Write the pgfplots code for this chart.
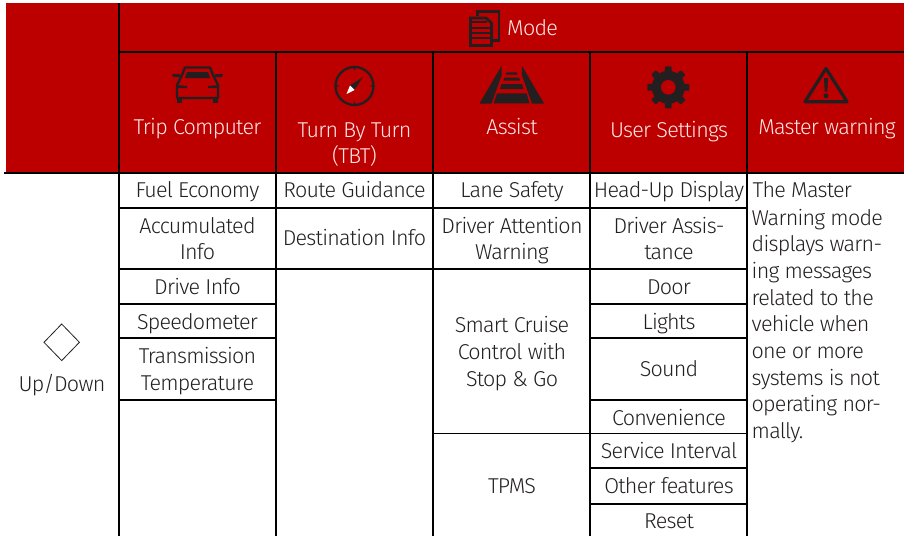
\documentclass[border=0pt]{standalone}
\usepackage{pgfplots}
\pgfplotsset{compat=1.18}
\usepackage{fontspec}
\setmainfont[LetterSpace=-3.5]{Fira Sans Light}
\definecolor{kred}{HTML}{BC0000}
\definecolor{ink}{HTML}{231F20}
\definecolor{pale}{HTML}{FFE6E6}
\newcommand{\tx}[3]{\node[anchor=base,inner sep=0pt,text=ink] at (axis cs:#1,#2) {#3};}
\newcommand{\wt}[3]{\node[anchor=base,inner sep=0pt,text=pale] at (axis cs:#1,#2) {#3};}
\newcommand{\lt}[3]{\node[anchor=base west,inner sep=0pt,text=ink] at (axis cs:#1,#2) {#3};}
\newcommand{\hl}[3]{\addplot[black,line width=1.6pt,line cap=butt] coordinates {(#1,#3) (#2,#3)};}
\newcommand{\vl}[3]{\addplot[black,line width=1.6pt,line cap=butt] coordinates {(#3,#1) (#3,#2)};}
\newcommand{\poly}[1]{\addplot[fill=ink,draw=none] coordinates {#1} -- cycle;}
\begin{document}
\begin{tikzpicture}[every node/.style={font=\fontsize{21.5}{24}\selectfont}]
\begin{axis}[
  width=904pt,height=536pt,scale only axis,
  xmin=0,xmax=904,ymin=0,ymax=536,y dir=reverse,
  hide axis,clip=true,
]
% red header
\addplot[fill=kred,draw=none] coordinates {(6,3) (904,3) (904,172.5) (6,172.5)} -- cycle;
% grid lines
\hl{4}{904}{173}
\hl{119}{904}{52}
\vl{3}{536}{119}
\vl{52}{536}{276}
\vl{52}{536}{433}
\vl{52}{536}{590}
\vl{52}{536}{747}
\hl{119}{276}{208}\hl{119}{276}{269}\hl{119}{276}{304}\hl{119}{276}{338}\hl{119}{276}{400}
\hl{276}{433}{208}\hl{276}{433}{269}
\hl{433}{590}{208}\hl{433}{590}{269}\hl{433}{590}{433.5}
\hl{590}{747}{208}\hl{590}{747}{269}\hl{590}{747}{304}\hl{590}{747}{338}\hl{590}{747}{400}\hl{590}{747}{433.5}\hl{590}{747}{468}\hl{590}{747}{504}
% diamond
\addplot[ink,line width=0.8pt] coordinates {(61.7,324) (79.4,342.3) (61.7,360.6) (44,342.3)} -- cycle;
% pages icon
\addplot[ink,line width=2.8pt,line join=miter] coordinates {(477.5,16) (477.5,11.2) (499,11.2) (499,40.5) (492.5,40.5)};
\addplot[ink,line width=2.8pt,line join=miter] coordinates {(470.5,18) (486,18) (491.5,23) (491.5,45.5) (470.5,45.5)} -- cycle;
\addplot[ink,line width=1.8pt] coordinates {(472,22.3) (487,22.3)};
\addplot[ink,line width=1.8pt] coordinates {(472,27.7) (490,27.7)};
\addplot[ink,line width=1.8pt] coordinates {(472,33.3) (490,33.3)};
\addplot[ink,line width=1.8pt] coordinates {(472,38.3) (490,38.3)};
% car icon
\addplot[ink,line width=2.4pt,line join=round] coordinates {(177,98) (177,85) (182,75) (185,67.5) (210,67.5) (213,75) (218,85) (218,98)} -- cycle;
\poly{(172,74) (180,74) (180,77) (173,77)}
\poly{(215,74) (223,74) (222,77) (215,77)}
\poly{(187,72) (208,72) (210,78) (185,78)}
\poly{(176,85) (187,86) (187,88) (176,88)}
\poly{(208,86) (219,85) (219,88) (208,88)}
\poly{(177,98) (182,98) (182,103) (177,103)}
\poly{(213,98) (218,98) (218,103) (213,103)}
% compass icon
\draw[ink,line width=2.3pt] (axis cs:354.5,86) circle [radius=19pt];
\poly{(353.5,67) (355.5,67) (354.5,71)}
\poly{(353.5,105) (355.5,105) (354.5,101)}
\poly{(336,85) (336,87) (340,86)}
\poly{(373,85) (373,87) (369,86)}
\poly{(363,77) (350,85.5) (354.5,90)}
\addplot[fill=white,draw=none] coordinates {(346.5,94) (350,85.5) (354.5,90)} -- cycle;
% road icon
\poly{(501.5,66) (479.5,103.5) (491.5,103.5) (501.7,75)}
\poly{(522,66) (544,103.5) (532,103.5) (521.8,75)}
\poly{(506.5,72.3) (516.8,72.3) (517.5,74.7) (505.8,74.7)}
\poly{(504.3,77.7) (519.2,77.7) (520.2,80.7) (503.3,80.7)}
\poly{(501.5,84) (522,84) (523.5,89) (500,89)}
\poly{(497,93.3) (526.5,93.3) (529.5,103.3) (493.7,103.3)}
% gear icon
\fill[ink] (axis cs:668.3,87.3) circle [radius=16.5pt];
\pgfplotsinvokeforeach{0,45,90,135,180,225,270,315}{
  \fill[ink,shift={(axis cs:668.3,87.3)},rotate=#1,rounded corners=1pt] (-3.4pt,13pt) rectangle (3.4pt,21pt);
}
\fill[kred] (axis cs:668.3,87.3) circle [radius=7.3pt];
% warning icon
\addplot[ink,line width=3.2pt,line join=round] coordinates {(826,68.5) (805,101.7) (847,101.7)} -- cycle;
\poly{(824,78) (828,78) (827.3,91.5) (824.7,91.5)}
\fill[ink] (axis cs:826,95.8) circle [radius=2.5pt];
% header text
\node[anchor=base west,inner sep=0pt,text=pale] at (axis cs:507,35) {Mode};
\wt{197.5}{134}{Trip Computer}
\wt{354.5}{137}{Turn By Turn}
\wt{354.5}{163}{(TBT)}
\wt{512}{134}{Assist}
\wt{669}{137}{User Settings}
\wt{827}{134}{Master warning}
% left
\tx{62}{391.7}{Up/Down}
% column 1
\tx{197.5}{197}{Fuel Economy}
\tx{197.5}{233}{Accumulated}
\tx{197.5}{259}{Info}
\tx{197.5}{294}{Drive Info}
\tx{197.5}{329}{Speedometer}
\tx{197.5}{363}{Transmission}
\tx{197.5}{390}{Temperature}
% column 2
\tx{354.5}{197}{Route Guidance}
\tx{354.5}{245.7}{Destination Info}
% column 3
\tx{512}{197}{Lane Safety}
\tx{512}{233}{Driver Attention}
\tx{512}{259}{Warning}
\tx{512}{332.7}{Smart Cruise}
\tx{512}{359}{Control with}
\tx{512}{386}{Stop \& Go}
\tx{512}{493}{TPMS}
% column 4
\tx{669}{197}{Head-Up Display}
\tx{669}{233}{Driver Assis-}
\tx{669}{259}{tance}
\tx{669}{294}{Door}
\tx{669}{329}{Lights}
\tx{669}{376.7}{Sound}
\tx{669}{425}{Convenience}
\tx{669}{458.7}{Service Interval}
\tx{669}{493}{Other features}
\tx{669}{528}{Reset}
% column 5
\lt{752.5}{197}{The Master}
\lt{751.5}{225}{Warning mode}
\lt{751.5}{251.7}{displays warn-}
\lt{751.5}{278}{ing messages}
\lt{751.5}{305}{related to the}
\lt{751.5}{331}{vehicle when}
\lt{751.5}{358}{one or more}
\lt{751.5}{385}{systems is not}
\lt{751.5}{411.7}{operating nor-}
\lt{751.5}{438}{mally.}
\end{axis}
\pgfresetboundingbox
\path[use as bounding box] (0,0) rectangle (904pt,536pt);
\end{tikzpicture}
\end{document}
